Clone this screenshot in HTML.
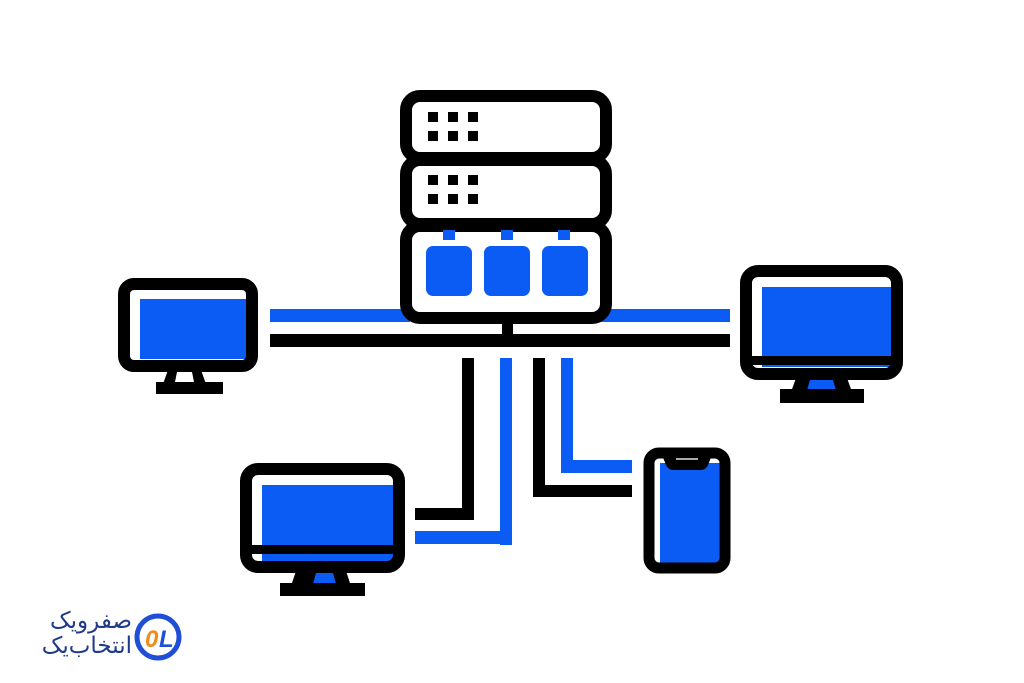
<!DOCTYPE html>
<html><head><meta charset="utf-8"><style>
html,body{margin:0;padding:0;background:#fff;width:1024px;height:683px;overflow:hidden}
.t{position:absolute;font-family:"Liberation Sans","Noto Sans CJK SC",sans-serif;color:#1f3a8a;direction:rtl;font-size:23px;line-height:25px;left:24px;width:108px;text-align:right}
</style></head><body>
<svg width="1024" height="683" style="position:absolute;left:0;top:0">
<g fill="#0a5cf5">
 <rect x="270" y="309" width="140" height="13"/>
 <rect x="600" y="309" width="130" height="13"/>
 <rect x="500" y="358" width="12" height="187"/>
 <rect x="415" y="531" width="97" height="13"/>
 <rect x="561" y="358" width="12" height="115"/>
 <rect x="561" y="460" width="71" height="13"/>
</g>
<g fill="#000">
 <rect x="270" y="334" width="460" height="13"/>
 <rect x="502" y="320" width="11" height="16"/>
 <rect x="462" y="358" width="12" height="162"/>
 <rect x="415" y="508" width="59" height="12"/>
 <rect x="533" y="358" width="12" height="139"/>
 <rect x="533" y="485" width="99" height="12"/>
</g>
<g fill="none" stroke="#000" stroke-width="12">
 <rect x="406" y="96" width="200" height="62" rx="14"/>
 <rect x="406" y="160" width="200" height="64" rx="14"/>
 <rect x="406" y="226" width="200" height="92" rx="14"/>
</g>
<g fill="#000">
 <rect x="428" y="112" width="10" height="10"/><rect x="448" y="112" width="10" height="10"/><rect x="468" y="112" width="10" height="10"/>
 <rect x="428" y="131" width="10" height="10"/><rect x="448" y="131" width="10" height="10"/><rect x="468" y="131" width="10" height="10"/>
 <rect x="428" y="175" width="10" height="10"/><rect x="448" y="175" width="10" height="10"/><rect x="468" y="175" width="10" height="10"/>
 <rect x="428" y="194" width="10" height="10"/><rect x="448" y="194" width="10" height="10"/><rect x="468" y="194" width="10" height="10"/>
</g>
<g fill="#0a5cf5">
 <rect x="443" y="230" width="12" height="10"/><rect x="501" y="230" width="12" height="10"/><rect x="558" y="230" width="12" height="10"/>
 <rect x="426" y="246" width="46" height="50" rx="7"/><rect x="484" y="246" width="46" height="50" rx="7"/><rect x="542" y="246" width="46" height="50" rx="7"/>
</g>
<rect x="140" y="299" width="108" height="60" fill="#0a5cf5"/>
<rect x="124" y="284" width="128" height="82" rx="10" fill="none" stroke="#000" stroke-width="12"/>
<polygon points="168,370 201,370 206,384 163,384" fill="#000"/><polygon points="177,372 192,372 194,382 175,382" fill="#fff"/>
<rect x="156" y="382" width="67" height="12" fill="#000"/>
<rect x="762" y="287" width="130" height="80" fill="#0a5cf5"/>
<rect x="746" y="271" width="151" height="103" rx="12" fill="none" stroke="#000" stroke-width="12"/>
<rect x="746" y="356" width="151" height="9" fill="#000"/>
<polygon points="796,378 847,378 852,392 791,392" fill="#000"/><polygon points="810,380 833,380 836,390 807,390" fill="#0a5cf5"/>
<rect x="780" y="389" width="84" height="14" fill="#000"/>
<rect x="262" y="485" width="133" height="80" fill="#0a5cf5"/>
<rect x="246" y="469" width="153" height="98" rx="12" fill="none" stroke="#000" stroke-width="12"/>
<rect x="246" y="545" width="153" height="9" fill="#000"/>
<polygon points="296,571 346,571 351,586 291,586" fill="#000"/><polygon points="316,573 333,573 336,584 313,584" fill="#0a5cf5"/>
<rect x="280" y="583" width="85" height="13" fill="#000"/>
<rect x="660" y="463" width="62" height="104" fill="#0a5cf5"/>
<rect x="649" y="453" width="76" height="115" rx="10" fill="none" stroke="#000" stroke-width="11"/>
<path d="M662 455 L712 455 L708 465 Q706 470 700 470 L674 470 Q668 470 666 465 Z" fill="#000"/>
<rect x="676" y="458" width="22" height="2" fill="#aaa"/>
<circle cx="158" cy="637" r="21" fill="none" stroke="#1f4fd6" stroke-width="5"/>
<text x="145" y="647" font-family="Liberation Sans,sans-serif" font-weight="bold" font-style="italic" font-size="24" fill="#f08a1c">0</text>
<text x="159" y="647" font-family="Liberation Sans,sans-serif" font-weight="bold" font-style="italic" font-size="24" fill="#1f4fd6">L</text>
</svg>
<div class="t" style="top:608px">صفرویک</div>
<div class="t" style="top:633px">انتخاب‌یک</div>
</body></html>
